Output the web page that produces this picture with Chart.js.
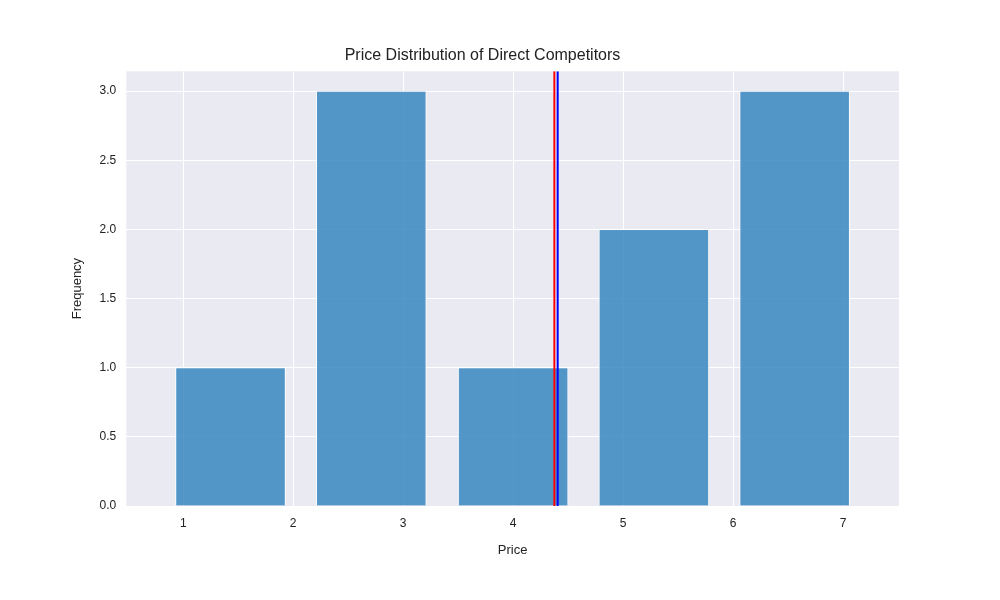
<!DOCTYPE html>
<html>
<head>
<script src="https://cdn.jsdelivr.net/npm/chart.js@4"></script>
<style>body{margin:0;background:#fff}#wrap{width:1000px;height:600px}</style>
</head>
<body>
<div id="wrap"><canvas id="histChart"></canvas></div>
<script>
const binCenters = [1.43, 2.71, 4.00, 5.28, 6.56];
const binCounts = [1, 3, 1, 2, 3];
const meanPrice = 4.375;
const medianPrice = 4.405;
const xTicks = [1, 2, 3, 4, 5, 6, 7];

const bgPlugin = {
  id: 'bg',
  beforeDraw(chart) {
    const a = chart.chartArea, c = chart.ctx;
    c.save();
    c.fillStyle = '#eaeaf2';
    c.fillRect(a.left, a.top, a.right - a.left, a.bottom - a.top);
    c.restore();
  }
};

new Chart(document.getElementById('histChart'), {
  type: 'bar',
  data: {
    datasets: [
      {
        data: binCenters.map((x, i) => ({x: x, y: binCounts[i]})),
        backgroundColor: 'rgba(49,130,189,0.82)',
        borderColor: '#ffffff',
        borderWidth: 1,
        barPercentage: 1,
        categoryPercentage: 1,
        order: 2
      },
      {
        type: 'line',
        data: [{x: meanPrice, y: 0}, {x: meanPrice, y: 3.144}],
        borderColor: 'red', borderWidth: 2, pointRadius: 0, order: 1
      },
      {
        type: 'line',
        data: [{x: medianPrice, y: 0}, {x: medianPrice, y: 3.144}],
        borderColor: 'blue', borderWidth: 2, pointRadius: 0, order: 0
      }
    ]
  },
  options: {
    responsive: true,
    maintainAspectRatio: false,
    animation: false,
    layout: {padding: {left: 66, right: 101, top: 46, bottom: 38}},
    plugins: {
      legend: {display: false},
      tooltip: {enabled: false},
      title: {
        display: true, text: 'Price Distribution of Direct Competitors',
        color: '#222', font: {family: 'Arial, Liberation Sans', size: 16, weight: 'normal'},
        padding: {bottom: 6}
      }
    },
    scales: {
      x: {
        type: 'linear', min: 0.482, max: 7.509, offset: false,
        afterBuildTicks: s => { s.ticks = xTicks.map(v => ({value: v})); },
        grid: {color: '#ffffff', lineWidth: 1, drawTicks: false, offset: false},
        border: {display: false},
        ticks: {color: '#222', padding: 10, font: {family: 'Arial, Liberation Sans', size: 12}},
        title: {display: true, text: 'Price', color: '#222', padding: {top: 2}, font: {family: 'Arial, Liberation Sans', size: 13}}
      },
      y: {
        min: 0, max: 3.144,
        afterBuildTicks: s => { s.ticks = [0, 0.5, 1, 1.5, 2, 2.5, 3].map(v => ({value: v})); },
        grid: {color: '#ffffff', lineWidth: 1, drawTicks: false},
        border: {display: false},
        ticks: {color: '#222', padding: 10, font: {family: 'Arial, Liberation Sans', size: 12}, callback: v => v.toFixed(1)},
        title: {display: true, text: 'Frequency', color: '#222', font: {family: 'Arial, Liberation Sans', size: 13}}
      }
    }
  },
  plugins: [bgPlugin]
});
</script>
</body>
</html>
